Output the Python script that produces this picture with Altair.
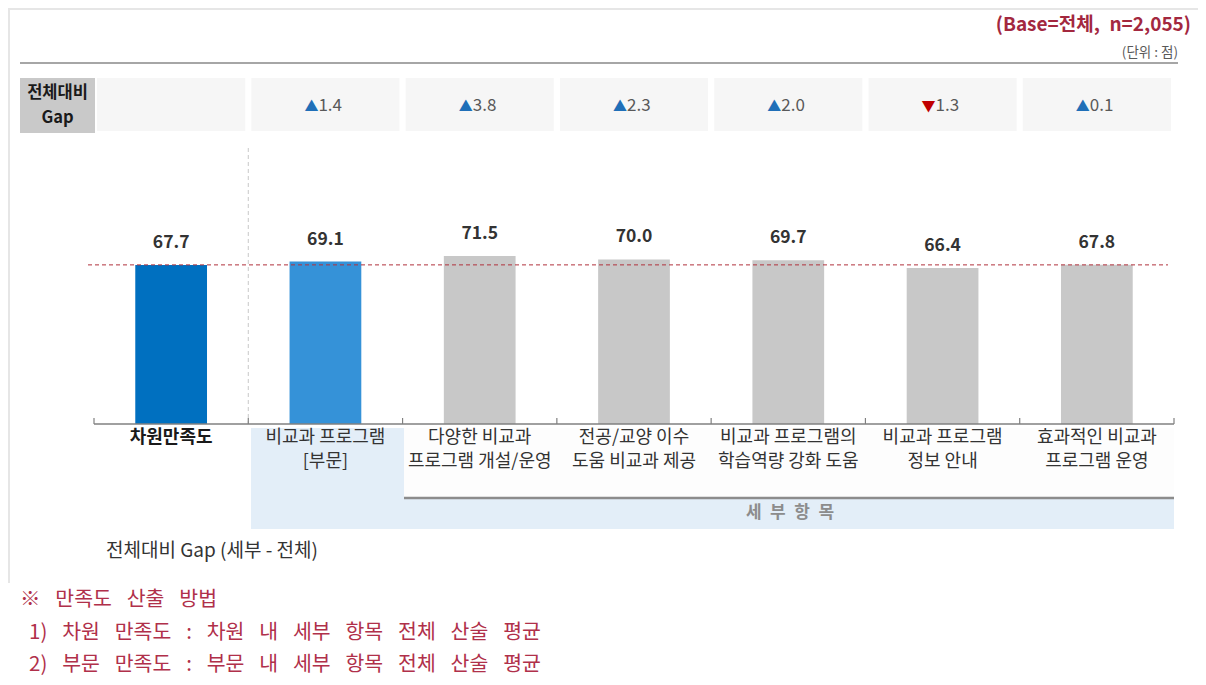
import altair as alt
import pandas as pd

FONT = "Noto Sans CJK KR"
SP = "\u2002 "  # wide word gap (plain spaces collapse in SVG)

categories = [
    "차원만족도",
    "비교과 프로그램\n[부문]",
    "다양한 비교과\n프로그램 개설/운영",
    "전공/교양 이수\n도움 비교과 제공",
    "비교과 프로그램의\n학습역량 강화 도움",
    "비교과 프로그램\n정보 안내",
    "효과적인 비교과\n프로그램 운영",
]
values = [67.7, 69.1, 71.5, 70.0, 69.7, 66.4, 67.8]
gaps = [None, 1.4, 3.8, 2.3, 2.0, -1.3, 0.1]
bar_colors = ["#0070c0", "#3592d8", "#c8c8c8", "#c8c8c8", "#c8c8c8", "#c8c8c8", "#c8c8c8"]
overall_value = 67.7

title_text = "(Base=전체,\u2002n=2,055)"
unit_text = "(단위 : 점)"
gap_box_lines = ["전체대비", "Gap"]
group_text = "세\u2002부\u2002항\u2002목"
gap_note = "전체대비 Gap (세부 - 전체)"
notes = [
    SP.join(["※", "만족도", "산출", "방법"]),
    SP.join(["1)", "차원", "만족도", ":", "차원", "내", "세부", "항목", "전체", "산술", "평균"]),
    SP.join(["2)", "부문", "만족도", ":", "부문", "내", "세부", "항목", "전체", "산술", "평균"]),
]

df = pd.DataFrame({"cat": categories, "value": values, "color": bar_colors})
gap_df = pd.DataFrame({"cat": categories, "gap": gaps}).dropna()
gap_df["arrow"] = ["▲" if g >= 0 else "▼" for g in gap_df["gap"]]
gap_df["acolor"] = ["#1f6fb8" if g >= 0 else "#c00000" for g in gap_df["gap"]]
gap_df["label"] = [f"{abs(g):.1f}" for g in gap_df["gap"]]

xscale = alt.Scale(domain=categories, range=[86, 1166], paddingInner=0, paddingOuter=0)
yscale = alt.Scale(domain=[0, 177], range=[416, 0], nice=False)
X = alt.X("cat:N", scale=xscale, axis=None, sort=categories)
Y = alt.Y("value:Q", scale=yscale, axis=None)

one = alt.Chart(pd.DataFrame({"k": [0]}))


def rect(x, x2, y, y2, color, opacity=1):
    return one.mark_rect(color=color, opacity=opacity).encode(
        x=alt.value(x), x2=alt.value(x2), y=alt.value(y), y2=alt.value(y2)
    )


def hrule(x, x2, y, color, width, dash=None):
    kw = dict(color=color, strokeWidth=width)
    if dash:
        kw["strokeDash"] = dash
    return one.mark_rule(**kw).encode(x=alt.value(x), x2=alt.value(x2), y=alt.value(y))


def label(text, x, y, size, color, weight="normal", align="left"):
    return one.mark_text(
        text=text, font=FONT, fontSize=size, color=color, fontWeight=weight,
        align=align, baseline="middle"
    ).encode(x=alt.value(x), y=alt.value(y))


layers = []
# panel border
layers.append(hrule(0, 1190, 1, "#e6e6e6", 2))
layers.append(one.mark_rule(color="#e6e6e6", strokeWidth=2).encode(
    x=alt.value(1), y=alt.value(0), y2=alt.value(575)))
# header
layers.append(label(title_text, 1183, 17, 19, "#a3283f", "bold", "right"))
layers.append(label(unit_text, 1170, 45, 13.5, "#595959", "normal", "right"))
layers.append(hrule(12, 1170, 55, "#a6a6a6", 2))
# gap row
layers.append(rect(12, 87, 70, 125, "#c9c9c9"))
layers.append(label(gap_box_lines[0], 49.5, 85, 16.5, "#1a1a1a", "bold", "center"))
layers.append(label(gap_box_lines[1], 49.5, 110, 16.5, "#1a1a1a", "bold", "center"))
layers.append(
    alt.Chart(df).mark_bar(color="#f6f6f6", width=alt.RelativeBandSize(0.96)).encode(
        x=X, y=alt.value(70), y2=alt.value(123)
    )
)
layers.append(
    alt.Chart(gap_df).mark_text(font=FONT, fontSize=14, align="right", baseline="middle", dx=-7).encode(
        x=X, y=alt.value(99), text="arrow:N", color=alt.Color("acolor:N", scale=None)
    )
)
layers.append(
    alt.Chart(gap_df).mark_text(font=FONT, fontSize=17, align="left", baseline="middle", dx=-7,
                                color="#595959").encode(
        x=X, y=alt.value(98), text="label:N"
    )
)
# category label backgrounds
layers.append(rect(243, 1166, 420, 521, "#e3eef8"))
layers.append(rect(396, 1166, 420, 489, "#fdfdfd"))
layers.append(hrule(396, 1166, 490, "#8c8c8c", 2.5))
layers.append(label(group_text, 782, 505, 17, "#8c8c8c", "bold", "center"))
# bars
layers.append(
    alt.Chart(df).mark_bar(width=alt.RelativeBandSize(0.465)).encode(
        x=X, y=Y, color=alt.Color("color:N", scale=None)
    )
)
layers.append(
    alt.Chart(df).mark_text(font=FONT, fontSize=17.5, fontWeight="bold", color="#333333",
                            baseline="middle", dy=-22).encode(
        x=X, y=Y, text=alt.Text("value:Q", format=".1f")
    )
)
# reference lines
layers.append(
    one.mark_rule(color="#b0303c", strokeWidth=1, strokeDash=[4, 3]).encode(
        x=alt.value(80), x2=alt.value(1160), y=alt.datum(overall_value, scale=yscale)
    )
)
layers.append(
    alt.Chart(df[df["cat"] == categories[1]]).mark_rule(color="#c8c8c8", strokeDash=[4, 3]).encode(
        x=alt.X("cat:N", scale=xscale, axis=None, bandPosition=0), y=alt.value(140), y2=alt.value(416)
    )
)
# axis
layers.append(hrule(86, 1166, 416, "#808080", 1.5))
layers.append(
    alt.Chart(df).mark_rule(color="#808080", strokeWidth=1.2).encode(
        x=alt.X("cat:N", scale=xscale, axis=None, bandPosition=0), y=alt.value(410), y2=alt.value(416)
    )
)
layers.append(
    alt.Chart(df[df["cat"] == categories[-1]]).mark_rule(color="#808080", strokeWidth=1.2).encode(
        x=alt.X("cat:N", scale=xscale, axis=None, bandPosition=1), y=alt.value(410), y2=alt.value(416)
    )
)
# category labels
layers.append(
    alt.Chart(df[df["cat"] == categories[0]]).mark_text(
        font=FONT, fontSize=18, fontWeight="bold", color="#1a1a1a", baseline="top", lineBreak="\n"
    ).encode(x=X, y=alt.value(421), text="cat:N")
)
layers.append(
    alt.Chart(df[df["cat"] != categories[0]]).mark_text(
        font=FONT, fontSize=18, color="#333333", baseline="top", lineBreak="\n", lineHeight=24
    ).encode(x=X, y=alt.value(421), text="cat:N")
)
# footnotes
layers.append(label(gap_note, 98, 543, 19, "#333333"))
layers.append(label(notes[0], 12, 592, 20.5, "#b0304a"))
layers.append(label(notes[1], 21, 625, 20.5, "#b0304a"))
layers.append(label(notes[2], 21, 657, 20.5, "#b0304a"))

chart = alt.layer(*layers).properties(
    width=1190, height=669, autosize=alt.AutoSizeParams(type="none"), padding=0, background="white"
).configure_view(stroke=None)

chart.save("out.html", embed_options={"renderer": "svg", "actions": False})
